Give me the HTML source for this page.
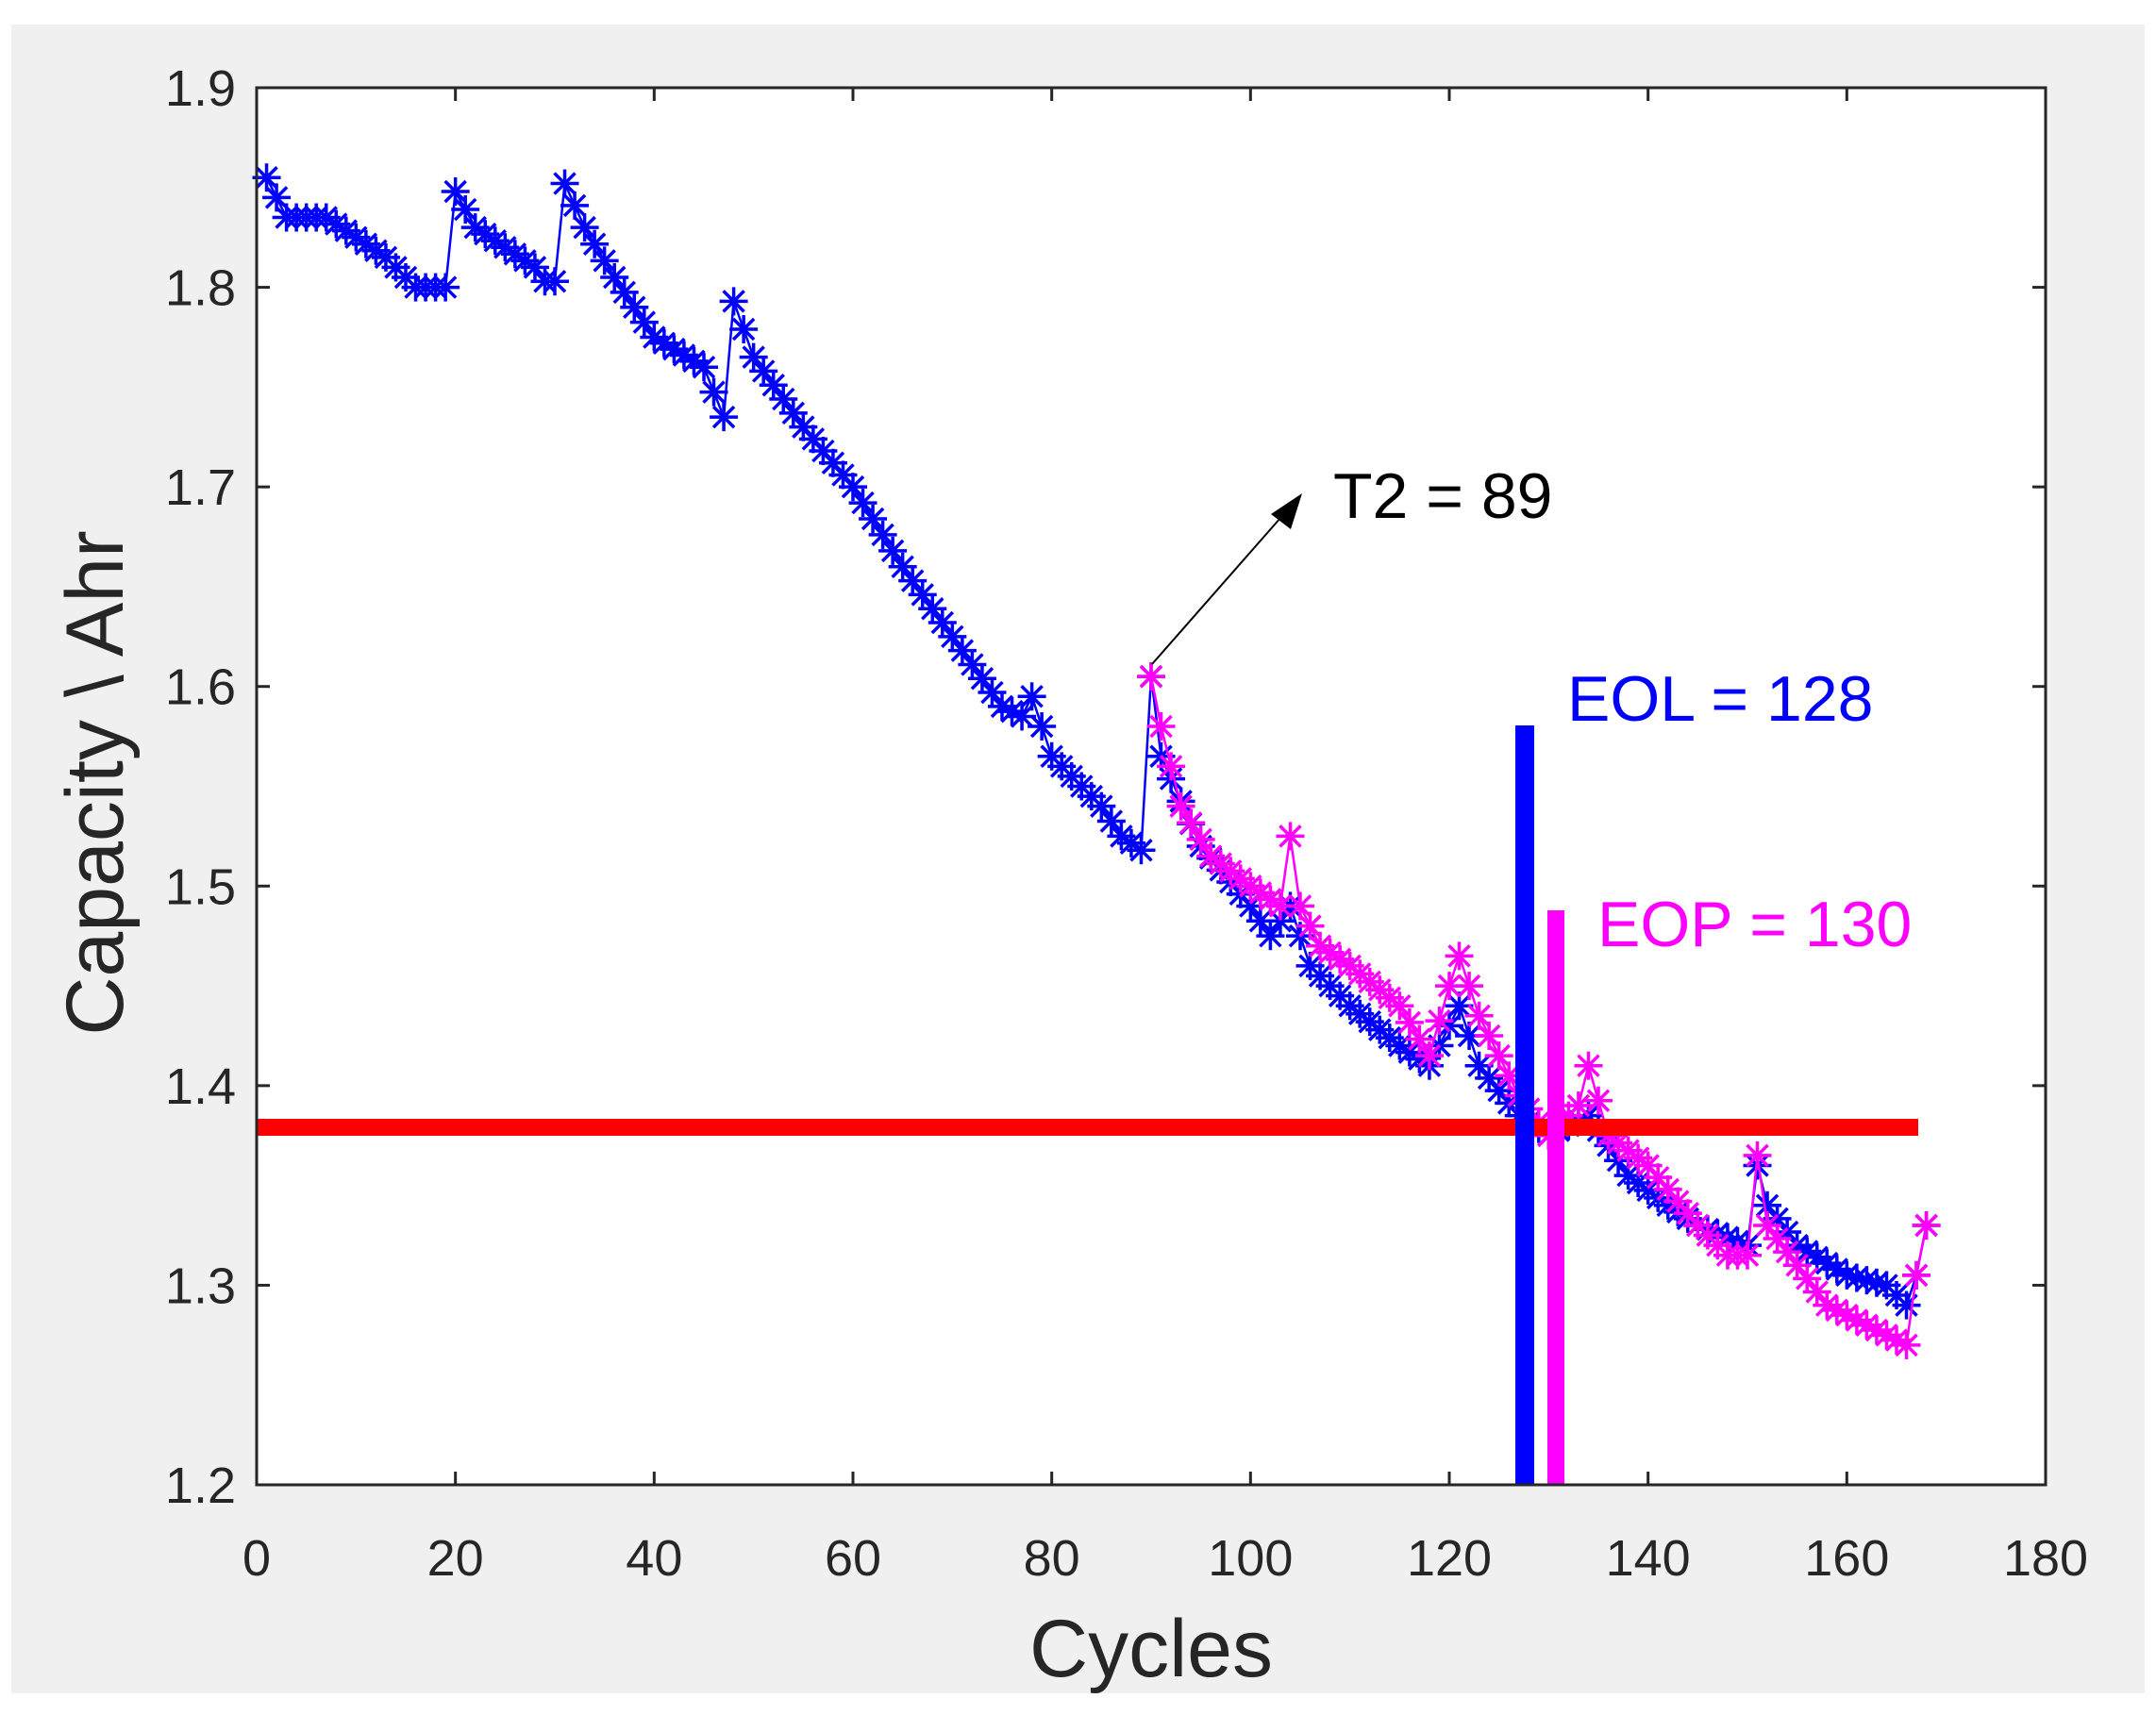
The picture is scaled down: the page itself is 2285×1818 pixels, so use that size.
<!DOCTYPE html>
<html><head><meta charset="utf-8"><style>
html,body{margin:0;padding:0;background:#fff;}
svg{display:block;font-family:"Liberation Sans",Arial,sans-serif;}
</style></head><body>
<svg id="s" width="2285" height="1818" viewBox="0 0 2285 1818" xmlns="http://www.w3.org/2000/svg">
<rect x="12" y="26" width="2261" height="1769" fill="#f0f0f0"/>
<rect x="272" y="93" width="1896" height="1481" fill="#fff"/>
<g id="ticks" stroke="#262626" stroke-width="3"></g>
<g id="lbl" fill="#262626" font-size="54"></g>
<g id="data"></g>
<rect x="272" y="1186" width="1761" height="18" fill="#ff0000"/>
<rect x="1606" y="769" width="20" height="805" fill="#0000ff"/>
<rect x="1640" y="965" width="18" height="609" fill="#ff00ff"/>
<line x1="1221" y1="704" x2="1365" y2="540" stroke="#000" stroke-width="2"/>
<polygon points="1380,523 1347,545 1368,561" fill="#000"/>
<text x="1413" y="549" font-size="68" fill="#000">T2 = 89</text>
<text x="1661" y="764" font-size="68" fill="#0000ff">EOL = 128</text>
<text x="1693" y="1003" font-size="68" fill="#ff00ff">EOP = 130</text>
<rect x="272" y="93" width="1896" height="1481" fill="none" stroke="#262626" stroke-width="3"/>
<text x="1220" y="1777" font-size="86" fill="#262626" text-anchor="middle">Cycles</text>
<text transform="translate(130,830) rotate(-90)" font-size="86" fill="#262626" text-anchor="middle">Capacity \ Ahr</text>
</svg>
<script>
var NS="http://www.w3.org/2000/svg";
function X(c){return 272+c*1896/180;}
function Y(v){return 1574-(v-1.2)*1481/0.7;}
function el(p,t,a){var e=document.createElementNS(NS,t);for(var k in a)e.setAttribute(k,a[k]);p.appendChild(e);return e;}
var tk=document.getElementById('ticks'),lb=document.getElementById('lbl');
for(var c=0;c<=180;c+=20){var x=X(c);
 el(tk,'line',{x1:x,y1:1574,x2:x,y2:1560});el(tk,'line',{x1:x,y1:93,x2:x,y2:107});
 var t=el(lb,'text',{x:x,y:1670,'text-anchor':'middle'});t.textContent=c;}
for(var i=0;i<=7;i++){var v=1.2+i*0.1,y=Y(v);
 el(tk,'line',{x1:272,y1:y,x2:286,y2:y});el(tk,'line',{x1:2168,y1:y,x2:2154,y2:y});
 var t=el(lb,'text',{x:250,y:y+19,'text-anchor':'end'});t.textContent=v.toFixed(1);}
var B=[[1,1.855],[3,1.835],[7,1.835],[10,1.825],[13,1.815],[16,1.80],[19,1.80],[20,1.848],[22,1.83],[25,1.82],[28,1.81],[29,1.803],[30,1.803],[31,1.852],[33,1.83],[36,1.805],[40,1.775],[45,1.76],[47,1.735],[48,1.793],[50,1.765],[55,1.73],[60,1.70],[65,1.66],[70,1.625],[75,1.59],[77,1.585],[78,1.595],[80,1.565],[85,1.54],[87,1.525],[89,1.518],[90,1.605],[91,1.565],[95,1.52],[100,1.49],[102,1.475],[104,1.49],[106,1.46],[110,1.44],[115,1.42],[118,1.41],[121,1.44],[123,1.41],[127,1.385],[130,1.375],[134,1.385],[138,1.355],[142,1.34],[145,1.33],[150,1.32],[151,1.36],[152,1.34],[155,1.32],[160,1.305],[164,1.30],[166,1.29],[167,1.305],[168,1.33]];
var M=[[90,1.605],[91,1.58],[93,1.54],[96,1.515],[100,1.50],[103,1.49],[104,1.525],[105,1.49],[107,1.47],[110,1.46],[115,1.44],[118,1.415],[120,1.45],[121,1.465],[123,1.435],[127,1.395],[130,1.375],[133,1.39],[134,1.41],[136,1.375],[140,1.36],[145,1.33],[148,1.315],[150,1.315],[151,1.365],[152,1.33],[155,1.31],[158,1.29],[162,1.28],[166,1.27],[167,1.305],[168,1.33]];
function interp(K){var o=[];for(var c=K[0][0];c<=K[K.length-1][0];c++){for(var j=0;j<K.length-1;j++){if(c>=K[j][0]&&c<=K[j+1][0]){var f=(c-K[j][0])/(K[j+1][0]-K[j][0]||1);o.push([c,K[j][1]+f*(K[j+1][1]-K[j][1])]);break;}}}return o;}
var d=document.getElementById('data');
function draw(K,col){var P=interp(K),pts=P.map(function(p){return X(p[0])+','+Y(p[1]);}).join(' ');
 el(d,'polyline',{points:pts,fill:'none',stroke:col,'stroke-width':2.5});
 var g=el(d,'g',{stroke:col,'stroke-width':3.5});var r=15,q=11;
 P.forEach(function(p){var x=X(p[0]),y=Y(p[1]);
  el(g,'line',{x1:x-r,y1:y,x2:x+r,y2:y});el(g,'line',{x1:x,y1:y-r,x2:x,y2:y+r});
  el(g,'line',{x1:x-q,y1:y-q,x2:x+q,y2:y+q});el(g,'line',{x1:x-q,y1:y+q,x2:x+q,y2:y-q});});}
draw(B,'#0000ff');draw(M,'#ff00ff');
</script>
</body></html>
